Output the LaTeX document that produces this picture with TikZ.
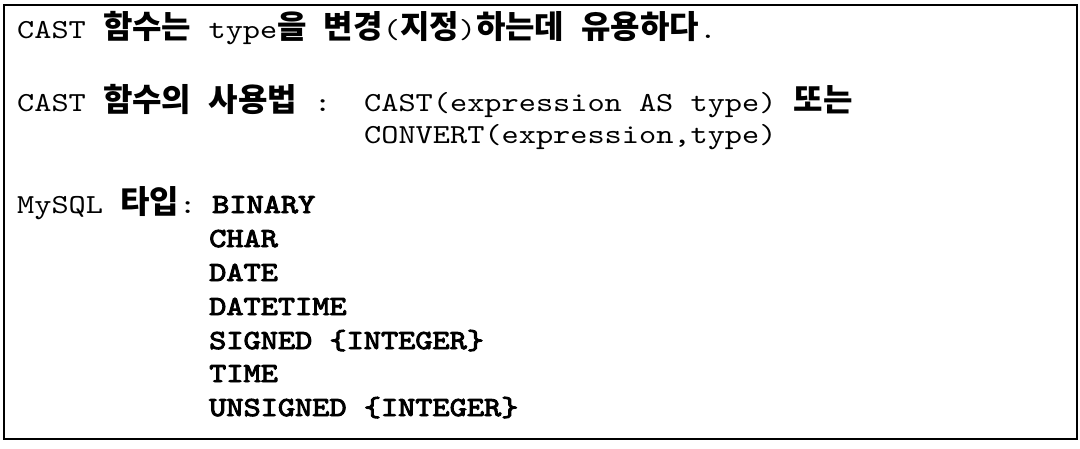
\documentclass[tikz,border=0pt]{standalone}
\usepackage{fontspec}
\setmonofont{lmmono10-regular}[Extension=.otf, FakeStretch=1.19]
\newfontfamily\ttbold{lmmono10-regular}[Extension=.otf, FakeStretch=1.19, FakeBold=3.5]
\newfontfamily\kr{Noto Sans CJK KR}
\usetikzlibrary{positioning}

\newcommand{\hk}[1]{{\kr\bfseries\fontsize{32}{34}\selectfont #1}}

\tikzset{
  txt/.style={anchor=base west, inner sep=0pt, font=\ttfamily\fontsize{27.5}{34}\selectfont},
  kind/.style={txt, font=\ttbold\fontsize{27.5}{34}\selectfont},
}

\begin{document}
\begin{tikzpicture}[x=1pt,y=-1pt]
    \useasboundingbox (0,0) rectangle (1080,448);
    \draw[line width=2.4pt] (4,5) rectangle (1077,439);

    % first line
    \node[txt] (use) at (17,38) {CAST \hk{함수는} type\hk{을} \hk{변경}(\hk{지정})\hk{하는데} \hk{유용하다}.};

    % syntax
    \node[txt] (syn) at (17,111) {CAST \hk{함수의} \hk{사용법} :};
    \node[txt] (cast) at (364,111) {CAST(expression AS type) \hk{또는}};
    \node[txt] (conv) at (364,143) {CONVERT(expression,type)};

    % types
    \node[txt] (my) at (17,213) {MySQL \hk{타입}:};
    \node[kind] (bin) at (212,213) {BINARY};
    \node[kind] (chr) at (209,247) {CHAR};
    \node[kind] (dat) at (209,281) {DATE};
    \node[kind] (dtm) at (209,315) {DATETIME};
    \node[kind] (sig) at (209,349) {SIGNED \{INTEGER\}};
    \node[kind] (tim) at (209,382) {TIME};
    \node[kind] (uns) at (209,416) {UNSIGNED \{INTEGER\}};
\end{tikzpicture}
\end{document}
